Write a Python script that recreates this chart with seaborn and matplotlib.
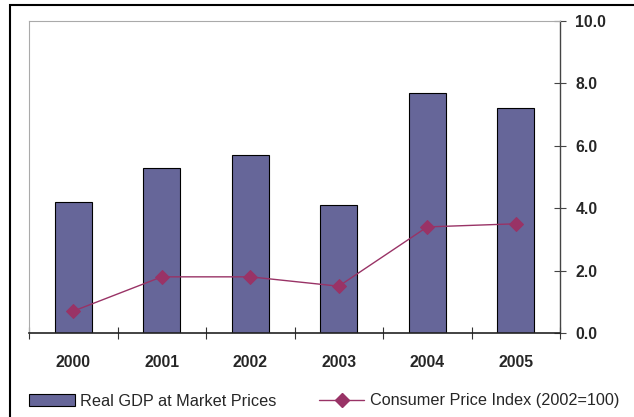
import numpy as np
import pandas as pd
import matplotlib
matplotlib.use("Agg")
import matplotlib.pyplot as plt
from matplotlib.patches import Rectangle, Patch
from matplotlib.lines import Line2D
import seaborn as sns

# Chart data
years = ["2000", "2001", "2002", "2003", "2004", "2005"]
gdp_growth = [4.2, 5.3, 5.7, 4.1, 7.7, 7.2]
cpi = [0.7, 1.8, 1.8, 1.5, 3.4, 3.5]
y_ticks = [0.0, 2.0, 4.0, 6.0, 8.0, 10.0]

df = pd.DataFrame({"year": years, "gdp": gdp_growth, "cpi": cpi})

sns.set_style("white")
plt.rcParams["font.family"] = ["Liberation Sans", "DejaVu Sans"]

bar_color = "#666699"
line_color = "#993366"

fig = plt.figure(figsize=(6.34, 4.17), dpi=100)
ax = fig.add_axes([29 / 634, 1 - 333 / 417, (560 - 29) / 634, (333 - 21) / 417])

sns.barplot(data=df, x="year", y="gdp", color=bar_color, width=0.42,
            edgecolor="black", linewidth=0.8, saturation=1, ax=ax)
sns.pointplot(data=df, x="year", y="cpi", color=line_color, marker="D",
              markersize=7.5, linewidth=1, ax=ax)

ax.set_xlim(-0.5, len(years) - 0.5)
ax.set_ylim(y_ticks[0], y_ticks[-1])
ax.set_xlabel("")
ax.set_ylabel("")

# x axis: ticks at category borders, labels centred
ax.set_xticks(np.arange(len(years) + 1) - 0.5)
ax.set_xticklabels([])
ax.set_xticks(np.arange(len(years)), minor=True)
ax.set_xticklabels(years, minor=True, fontweight="bold", fontsize=11.3)
ax.tick_params(axis="x", which="major", direction="inout", length=9,
               width=0.8, color="#333333", bottom=True)
ax.tick_params(axis="x", which="minor", length=0, pad=16)

# y axis on the right
ax.yaxis.tick_right()
ax.set_yticks(y_ticks)
ax.set_yticklabels([f"{v:.1f}" for v in y_ticks], fontweight="bold", fontsize=11.3)
ax.tick_params(axis="y", direction="inout", length=8, width=0.8,
               color="#444444", pad=7, right=True, left=False)

for side, col, lw in [("left", "#aaaaaa", 0.8), ("top", "#aaaaaa", 0.8),
                      ("right", "#444444", 1.0), ("bottom", "#222222", 1.2)]:
    ax.spines[side].set_visible(True)
    ax.spines[side].set_color(col)
    ax.spines[side].set_linewidth(lw)

# legend below the plot
handles = [
    Patch(facecolor=bar_color, edgecolor="black", linewidth=0.8,
          label="Real GDP at Market Prices"),
    Line2D([], [], color=line_color, marker="D", markersize=7.5, linewidth=1,
           label="Consumer Price Index (2002=100)"),
]
fig.legend(handles=handles, loc="center left", bbox_to_anchor=(29 / 634, 1 - 401 / 417),
           ncol=2, frameon=False, fontsize=11.7, handlelength=2.8, handletextpad=0.35,
           columnspacing=2.6, borderpad=0, borderaxespad=0)

# outer frame, cut by the image edge on right and bottom
fig.patches.append(Rectangle((10 / 634, -0.1), 1.0, 1 - 5 / 417 + 0.1,
                             transform=fig.transFigure, fill=False,
                             edgecolor="black", linewidth=1.5))

fig.savefig("out.png", dpi=100)
plt.close(fig)
